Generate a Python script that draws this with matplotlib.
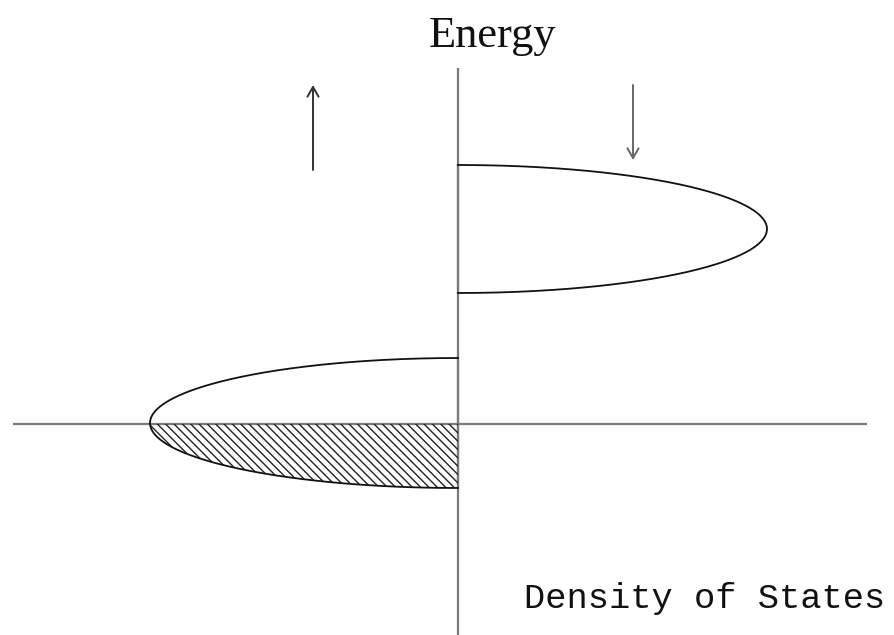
import matplotlib
matplotlib.use('Agg')

import numpy as np
import matplotlib.pyplot as plt

# band parameters (energy units, DOS units; 1 unit ~ 100 px)
band_names = ['spin up', 'spin down']
band_center = [0.01, 1.95]      # energy of band centre
band_halfwidth = [0.65, 0.64]   # half width in energy
band_peak = [-3.08, 3.09]       # peak DOS (negative = spin up side)
fermi_level = 0.0

# axis extents
dos_axis = [-4.45, 4.09]
energy_axis = [-2.2, 3.56]

# spin arrows: x, y_start, y_end
arrow_x = [-1.45, 1.75]
arrow_y0 = [2.54, 3.39]
arrow_y1 = [3.39, 2.64]
arrow_colors = ['#333333', '#666666']

fig = plt.figure(figsize=(8.94, 6.35), dpi=100)
ax = fig.add_axes([0, 0, 1, 1])
ax.set_xlim(-4.58, 4.36)
ax.set_ylim(-2.11, 4.24)
ax.axis('off')

plt.rcParams['hatch.linewidth'] = 1.0
axis_color = '#7a7a7a'
ax.plot(dos_axis, [0, 0], color=axis_color, lw=1.6, zorder=1, solid_capstyle='butt')
ax.plot([0, 0], energy_axis, color=axis_color, lw=1.6, zorder=1, solid_capstyle='butt')

t = np.linspace(-np.pi / 2, np.pi / 2, 300)
for c, hw, pk in zip(band_center, band_halfwidth, band_peak):
    e = c + hw * np.sin(t)
    d = pk * np.cos(t)
    ax.plot(d, e, color='#111111', lw=1.3, zorder=3)
    ax.plot([0, 0], [e[0], e[-1]], color=axis_color, lw=1.6, zorder=2)
    # occupied part below the Fermi level
    occ = e <= fermi_level
    if occ.any():
        eo = np.append(e[occ], fermi_level)
        do = np.append(d[occ], pk * np.sqrt(max(0, 1 - ((fermi_level - c) / hw) ** 2)))
        ax.fill_betweenx(eo, do, 0, facecolor='none', edgecolor='#222222',
                         hatch='\\\\\\\\', lw=0, zorder=2)

for x, y0, y1, col in zip(arrow_x, arrow_y0, arrow_y1, arrow_colors):
    ax.annotate('', xy=(x, y1), xytext=(x, y0),
                arrowprops=dict(arrowstyle='->,head_length=0.7,head_width=0.4',
                                color=col, lw=1.4, shrinkA=0, shrinkB=0))

ax.text(0.35, 3.77, 'Energy', family='Liberation Serif', fontsize=32,
        ha='center', va='baseline', color='#111111')
ax.text(4.27, -1.84, 'Density of States', family='Liberation Mono', fontsize=25.5,
        ha='right', va='baseline', color='#111111')

fig.savefig('out.png', dpi=100)
